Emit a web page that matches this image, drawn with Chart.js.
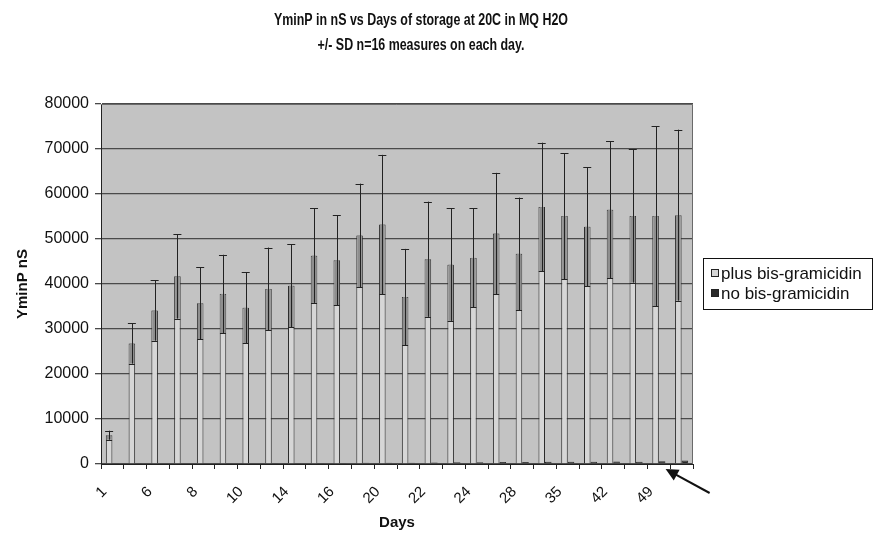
<!DOCTYPE html>
<html>
<head>
<meta charset="utf-8">
<script src="https://cdn.jsdelivr.net/npm/chart.js@4.4.0/dist/chart.umd.min.js"></script>
<style>
  body { margin: 0; background: #fff; }
  #wrap { width: 874px; height: 533px; }
</style>
</head>
<body>
<div id="wrap"><canvas id="chart" width="874" height="533"></canvas></div>
<script>
// storage days (every other one is labelled on the axis)
const days = ['1', '3', '6', '7', '8', '9', '10', '13', '14', '15', '16', '17', '20',
              '21', '22', '23', '24', '27', '28', '31', '35', '38', '42', '45', '49', '56'];

// YminP (nS), mean of n=16 measures
const plusGramicidin = [6400, 26800, 34100, 41700, 35700, 37800, 34700, 38900, 39600, 46300,
                        45300, 50800, 53200, 37100, 45500, 44300, 45800, 51200, 46700, 57100,
                        55100, 52700, 56500, 55100, 55100, 55300];
const plusSD = [1000, 4500, 6700, 9400, 8000, 8700, 7900, 9200, 9200, 10500,
                10000, 11500, 15500, 10700, 12800, 12500, 11000, 13500, 12500, 14300,
                14000, 13200, 15200, 14800, 20000, 19000];
const noGramicidin = [100, 120, 150, 150, 150, 200, 150, 200, 200, 250,
                      250, 300, 300, 300, 350, 400, 400, 450, 450, 500,
                      500, 500, 550, 500, 600, 800];

const yTicks = [0, 10000, 20000, 30000, 40000, 50000, 60000, 70000, 80000];

const titleLines = ['YminP in nS vs Days of storage at 20C in MQ H2O',
                    '+/- SD n=16 measures on each day.'];

const FONT = "'Liberation Sans', Arial, sans-serif";

// two-line title, a bit condensed like the original
const chartTitle = {
    id: 'chartTitle',
    afterDraw(chart) {
        const { ctx } = chart;
        ctx.save();
        ctx.font = 'bold 16px ' + FONT;
        ctx.fillStyle = '#111';
        ctx.textAlign = 'center';
        ctx.textBaseline = 'middle';
        const k = 294 / ctx.measureText(titleLines[0]).width;
        titleLines.forEach((t, i) => {
            ctx.save();
            ctx.translate(421, 21 + i * 25);
            ctx.scale(k, 1);
            ctx.fillText(t, 0, 0);
            ctx.restore();
        });
        ctx.restore();
    }
};

// grey plot background + frame
const plotBg = {
    id: 'plotBg',
    beforeDraw(chart) {
        const { ctx, chartArea: a } = chart;
        ctx.save();
        ctx.fillStyle = '#c3c3c3';
        ctx.fillRect(a.left, a.top, a.right - a.left, a.bottom - a.top);
        ctx.restore();
    },
    afterDatasetsDraw(chart) {
        const { ctx, chartArea: a } = chart;
        ctx.save();
        ctx.strokeStyle = '#6a6a6a';
        ctx.lineWidth = 1;
        ctx.beginPath();
        ctx.moveTo(a.left, a.top + 0.5);
        ctx.lineTo(a.right - 0.5, a.top + 0.5);
        ctx.lineTo(a.right - 0.5, a.bottom);
        ctx.stroke();
        ctx.restore();
    }
};

// +/- SD error bars on the first series
const errorBars = {
    id: 'errorBars',
    afterDatasetsDraw(chart) {
        const { ctx } = chart;
        const y = chart.scales.y;
        const meta = chart.getDatasetMeta(0);
        ctx.save();
        meta.data.forEach((bar, i) => {
            const v = plusGramicidin[i], sd = plusSD[i];
            const yHi = y.getPixelForValue(v + sd);
            const yLo = y.getPixelForValue(Math.max(0, v - sd));
            const w = bar.width;
            ctx.fillStyle = '#8e8e8e';
            ctx.fillRect(bar.x - w / 2 + 1, bar.y, w - 2, yLo - bar.y);
            ctx.strokeStyle = '#222';
            ctx.lineWidth = 1;
            ctx.beginPath();
            ctx.moveTo(Math.round(bar.x) + 0.5, yHi);
            ctx.lineTo(Math.round(bar.x) + 0.5, yLo);
            ctx.moveTo(bar.x - 4, Math.round(yHi) + 0.5);
            ctx.lineTo(bar.x + 4, Math.round(yHi) + 0.5);
            ctx.moveTo(bar.x - 3, Math.round(yLo) + 0.5);
            ctx.lineTo(bar.x + 3, Math.round(yLo) + 0.5);
            ctx.stroke();
        });
        ctx.restore();
    }
};

// boxed legend to the right + arrow pointing at the near-zero bars
const sideLegend = {
    id: 'sideLegend',
    afterDraw(chart) {
        const { ctx, chartArea: a } = chart;
        const x0 = a.right + 10, x1 = 873;
        const top = 258, bottom = 310;
        ctx.save();
        ctx.fillStyle = '#fff';
        ctx.fillRect(x0, top, x1 - x0, bottom - top);
        ctx.strokeStyle = '#111';
        ctx.lineWidth = 1;
        ctx.strokeRect(x0 + 0.5, top + 0.5, x1 - x0 - 1, bottom - top - 1);
        ctx.font = '17px ' + FONT;
        ctx.textBaseline = 'middle';
        chart.data.datasets.forEach((ds, i) => {
            const cy = top + 15 + i * 20;
            ctx.fillStyle = ds.backgroundColor;
            ctx.fillRect(x0 + 8, cy - 4, 8, 8);
            ctx.strokeStyle = '#222';
            ctx.strokeRect(x0 + 8.5, cy - 3.5, 7, 7);
            ctx.fillStyle = '#111';
            ctx.fillText(ds.label, x0 + 18, cy + 1);
        });

        // arrow
        const xs = chart.scales.x, ys = chart.scales.y;
        const tipX = xs.getPixelForValue(days.length - 1) - 16;
        const tipY = ys.getPixelForValue(0) + 5;
        const tailX = tipX + 44, tailY = tipY + 24;
        const ang = Math.atan2(tipY - tailY, tipX - tailX);
        ctx.strokeStyle = '#111';
        ctx.fillStyle = '#111';
        ctx.lineWidth = 2;
        ctx.beginPath();
        ctx.moveTo(tailX, tailY);
        ctx.lineTo(tipX + 8 * Math.cos(ang + Math.PI), tipY + 8 * Math.sin(ang + Math.PI));
        ctx.stroke();
        ctx.beginPath();
        ctx.moveTo(tipX, tipY);
        ctx.lineTo(tipX - 14 * Math.cos(ang - 0.45), tipY - 14 * Math.sin(ang - 0.45));
        ctx.lineTo(tipX - 14 * Math.cos(ang + 0.45), tipY - 14 * Math.sin(ang + 0.45));
        ctx.closePath();
        ctx.fill();
        ctx.restore();
    }
};

new Chart(document.getElementById('chart'), {
    type: 'bar',
    data: {
        labels: days,
        datasets: [{
            label: 'plus bis-gramicidin',
            data: plusGramicidin,
            backgroundColor: '#d6d6d6',
            borderColor: '#2b2b2b',
            borderWidth: 1,
            categoryPercentage: 0.575,
            barPercentage: 1
        }, {
            label: 'no bis-gramicidin',
            data: noGramicidin,
            backgroundColor: '#2a2a2a',
            borderColor: '#2a2a2a',
            borderWidth: 1,
            categoryPercentage: 0.575,
            barPercentage: 1
        }]
    },
    options: {
        responsive: false,
        animation: false,
        devicePixelRatio: 1,
        layout: { padding: { left: 0, right: 181, top: 104, bottom: 0 } },
        plugins: {
            legend: { display: false },
            tooltip: { enabled: false },
            title: { display: false }
        },
        scales: {
            x: {
                afterFit: s => { s.height = 69; },
                grid: { display: true, drawOnChartArea: false, color: '#222', tickLength: 5, offset: true },
                border: { color: '#222', width: 1 },
                ticks: {
                    autoSkip: false,
                    maxRotation: 45,
                    minRotation: 45,
                    padding: 14,
                    labelOffset: -8,
                    color: '#111',
                    font: { family: FONT, size: 15 },
                    callback: (val, i) => (i % 2 === 0 ? days[i] : '')
                },
                title: {
                    display: true,
                    text: 'Days',
                    color: '#111',
                    font: { family: FONT, size: 15, weight: 'bold' },
                    padding: { top: 0, bottom: 1 }
                }
            },
            y: {
                min: 0,
                max: 80000,
                afterFit: s => { s.width = 101; },
                afterBuildTicks: s => { s.ticks = yTicks.map(v => ({ value: v })); },
                grid: { color: '#4a4a4a', lineWidth: 1.3, tickLength: 6 },
                border: { color: '#222', width: 1 },
                ticks: {
                    padding: 6,
                    color: '#111',
                    font: { family: FONT, size: 16 },
                    callback: v => String(v)
                },
                title: {
                    display: true,
                    text: 'YminP nS',
                    color: '#111',
                    font: { family: FONT, size: 15, weight: 'bold' },
                    padding: { top: 14, bottom: 4 }
                }
            }
        }
    },
    plugins: [plotBg, errorBars, sideLegend, chartTitle]
});
</script>
</body>
</html>
